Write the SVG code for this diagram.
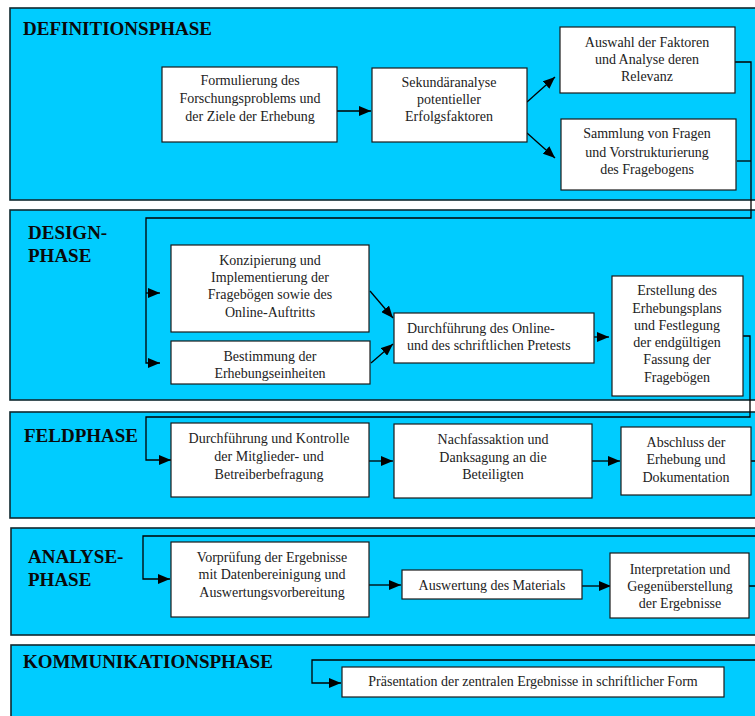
<svg xmlns="http://www.w3.org/2000/svg" width="755" height="716" viewBox="0 0 755 716">
<defs>
<style>
.panel{fill:#00CCFF;stroke:#102830;stroke-width:1.6}
.box{fill:#fff;stroke:#1a1a1a;stroke-width:1.2}
.t{font-size:14px;fill:#222;text-anchor:middle}
.tl{font-size:14px;fill:#222}
.h{font-size:19px;font-weight:bold;fill:#0a0a0a}
.c{fill:none;stroke:#000;stroke-width:1.3}
</style>
<marker id="ah" viewBox="0 0 12 10" refX="12" refY="5" markerWidth="12" markerHeight="10" markerUnits="userSpaceOnUse" orient="auto">
<path d="M0 0 L12 5 L0 10 Z" fill="#000"/>
</marker>
</defs>
<rect width="755" height="716" fill="#fff"/>

<g id="diagram" font-family="Liberation Serif, Times New Roman, serif">
<g id="phases">
<g id="definitionsphase"><rect class="panel" x="10" y="8" width="760" height="192"/><text class="h" x="23" y="35">DEFINITIONSPHASE</text></g>
<g id="designphase"><rect class="panel" x="10" y="210" width="760" height="190"/><text class="h" x="28" y="239">DESIGN-</text><text class="h" x="28" y="262">PHASE</text></g>
<g id="feldphase"><rect class="panel" x="10" y="412" width="760" height="106"/><text class="h" x="24" y="442">FELDPHASE</text></g>
<g id="analysephase"><rect class="panel" x="11" y="528" width="760" height="107"/><text class="h" x="28" y="563">ANALYSE-</text><text class="h" x="28" y="586">PHASE</text></g>
<g id="kommunikationsphase"><rect class="panel" x="11" y="645" width="760" height="80"/><text class="h" x="23" y="668">KOMMUNIKATIONSPHASE</text></g>
</g>

<g id="connectors">
<path class="c" d="M337 111 H371" marker-end="url(#ah)"/>
<path class="c" d="M527 102 L555 77" marker-end="url(#ah)"/>
<path class="c" d="M527 133 L555 158" marker-end="url(#ah)"/>
<path class="c" d="M735 62 H751 V218 H146 V363 H160" marker-end="url(#ah)"/>
<path class="c" d="M737 161 H751"/>
<path class="c" d="M146 293 H160" marker-end="url(#ah)"/>
<path class="c" d="M370 291 L393 318" marker-end="url(#ah)"/>
<path class="c" d="M371 363 L393 344" marker-end="url(#ah)"/>
<path class="c" d="M594 337 H609" marker-end="url(#ah)"/>
<path class="c" d="M743 336 H750 V417 H146 V460 H171" marker-end="url(#ah)"/>
<path class="c" d="M369 461 H393" marker-end="url(#ah)"/>
<path class="c" d="M592 461 H620" marker-end="url(#ah)"/>
<path class="c" d="M751 461 H762 V536 H143 V579 H170" marker-end="url(#ah)"/>
<path class="c" d="M369 585 H401" marker-end="url(#ah)"/>
<path class="c" d="M582 586 H611" marker-end="url(#ah)"/>
<path class="c" d="M749 586 H762 V660 H312 V683 H341" marker-end="url(#ah)"/>
</g>

<g id="n1"><rect class="box" x="162" y="67" width="175" height="75"/>
<text class="t" x="250" y="85">Formulierung des</text><text class="t" x="250" y="103">Forschungsproblems und</text><text class="t" x="250" y="121">der Ziele der Erhebung</text></g>
<g id="n2"><rect class="box" x="372" y="68" width="155" height="74"/>
<text class="t" x="449" y="87">Sekundäranalyse</text><text class="t" x="449" y="104">potentieller</text><text class="t" x="449" y="121">Erfolgsfaktoren</text></g>
<g id="n3"><rect class="box" x="560" y="27" width="175" height="66"/>
<text class="t" x="647" y="47">Auswahl der Faktoren</text><text class="t" x="647" y="64">und  Analyse deren</text><text class="t" x="647" y="81">Relevanz</text></g>
<g id="n4"><rect class="box" x="561" y="119" width="175" height="71"/>
<text class="t" x="647" y="138">Sammlung von Fragen</text><text class="t" x="647" y="157">und Vorstrukturierung</text><text class="t" x="647" y="174">des Fragebogens</text></g>

<g id="n5"><rect class="box" x="171" y="245" width="198" height="87"/>
<text class="t" x="270" y="265">Konzipierung und</text><text class="t" x="270" y="282">Implementierung der</text><text class="t" x="270" y="299">Fragebögen sowie des</text><text class="t" x="270" y="317">Online-Auftritts</text></g>
<g id="n6"><rect class="box" x="171" y="341" width="199" height="43"/>
<text class="t" x="270" y="361">Bestimmung der</text><text class="t" x="270" y="378">Erhebungseinheiten</text></g>
<g id="n7"><rect class="box" x="394" y="313" width="200" height="50"/>
<text class="tl" x="407" y="333">Durchführung des Online-</text><text class="tl" x="407" y="350">und des schriftlichen Pretests</text></g>
<g id="n8"><rect class="box" x="612" y="276" width="131" height="120"/>
<text class="t" x="677" y="295">Erstellung des</text><text class="t" x="677" y="313">Erhebungsplans</text><text class="t" x="677" y="330">und  Festlegung</text><text class="t" x="677" y="347">der endgültigen</text><text class="t" x="677" y="364">Fassung der</text><text class="t" x="677" y="382">Fragebögen</text></g>

<g id="n9"><rect class="box" x="171" y="423" width="198" height="74"/>
<text class="t" x="269" y="443">Durchführung und Kontrolle</text><text class="t" x="269" y="461">der Mitglieder- und</text><text class="t" x="269" y="479">Betreiberbefragung</text></g>
<g id="n10"><rect class="box" x="394" y="424" width="198" height="74"/>
<text class="t" x="493" y="444">Nachfassaktion und</text><text class="t" x="493" y="462">Danksagung an die</text><text class="t" x="493" y="479">Beteiligten</text></g>
<g id="n11"><rect class="box" x="621" y="427" width="130" height="68"/>
<text class="t" x="686" y="447">Abschluss der</text><text class="t" x="686" y="464">Erhebung und</text><text class="t" x="686" y="482">Dokumentation</text></g>

<g id="n12"><rect class="box" x="171" y="542" width="198" height="75"/>
<text class="t" x="272" y="562">Vorprüfung der Ergebnisse</text><text class="t" x="272" y="579">mit Datenbereinigung und</text><text class="t" x="272" y="597">Auswertungsvorbereitung</text></g>
<g id="n13"><rect class="box" x="402" y="570" width="180" height="29"/>
<text class="t" x="492" y="590">Auswertung des Materials</text></g>
<g id="n14"><rect class="box" x="610" y="553" width="139" height="65"/>
<text class="t" x="680" y="574">Interpretation  und</text><text class="t" x="680" y="591">Gegenüberstellung</text><text class="t" x="680" y="608">der Ergebnisse</text></g>

<g id="n15"><rect class="box" x="342" y="667" width="382" height="30"/>
<text class="t" x="533" y="686">Präsentation der zentralen Ergebnisse in schriftlicher Form</text></g>
</g>
</svg>
